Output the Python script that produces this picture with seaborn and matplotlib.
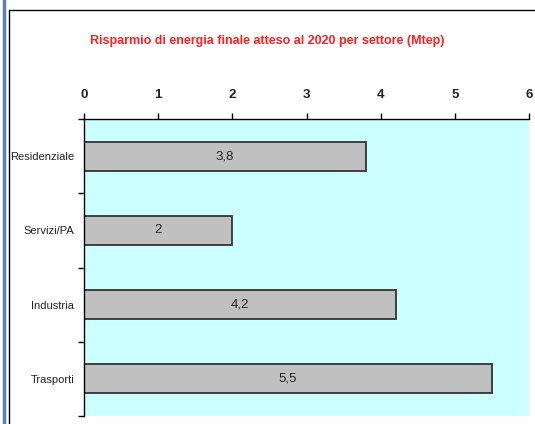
import matplotlib
matplotlib.use("Agg")
import matplotlib.pyplot as plt
import seaborn as sns
import pandas as pd
from matplotlib.lines import Line2D

categories = ["Residenziale", "Servizi/PA", "Industria", "Trasporti"]
values = [3.8, 2, 4.2, 5.5]
xticks = [0, 1, 2, 3, 4, 5, 6]
title = "Risparmio di energia finale atteso al 2020 per settore (Mtep)"

sns.set_theme(style="white")
plt.rcParams['font.family'] = ['Liberation Sans Narrow', 'Liberation Sans', 'DejaVu Sans']

df = pd.DataFrame({"settore": categories, "valore": values})

fig = plt.figure(figsize=(5.35, 4.24), dpi=100)
ax = fig.add_axes([84/535, 1-416/424, (529-84)/535, (416-119)/424])
ax.set_facecolor("#CCFFFF")

sns.barplot(data=df, x="valore", y="settore", orient="h", color="#C0C0C0",
            edgecolor="#333333", linewidth=1.3, width=0.39, saturation=1, ax=ax)

labels = [f"{v:g}".replace(".", ",") for v in values]
ax.bar_label(ax.containers[0], labels=labels, label_type="center",
             fontsize=9.5, color="#222222")

ax.set_xlim(0, 6)
ax.set_ylim(3.5, -0.5)
ax.xaxis.tick_top()
ax.set_xticks(xticks)
ax.set_xticklabels([str(t) for t in xticks], fontsize=9.5, color="#222222",
                   fontweight="bold")
ax.tick_params(axis="x", top=True, bottom=False, direction="out", length=4,
               width=1, color="black", pad=9)
ax.set_yticks(range(len(categories)))
ax.set_yticklabels(categories, fontsize=8, color="#222222")
ax.tick_params(axis="y", which="major", left=False, length=0, pad=7)
ax.set_yticks([-0.5, 0.5, 1.5, 2.5, 3.5], minor=True)
ax.tick_params(axis="y", which="minor", left=True, direction="out", length=4,
               width=1, color="black")
ax.set_xlabel("")
ax.set_ylabel("")
for s in ["right", "bottom"]:
    ax.spines[s].set_visible(False)
for s in ["left", "top"]:
    ax.spines[s].set_visible(True)
    ax.spines[s].set_color("black")
    ax.spines[s].set_linewidth(1)

fig.text(0.5, 1-41/424, title, ha="center", va="center", color="#FF2020",
         fontsize=9, fontweight="bold")

# outer frames
fig.add_artist(Line2D([4/535, 4/535], [0, 1], transform=fig.transFigure,
                      color="#5B7FB8", linewidth=2.5))
fig.add_artist(Line2D([9/535, 9/535], [0, 1-10/424], transform=fig.transFigure,
                      color="black", linewidth=1))
fig.add_artist(Line2D([9/535, 1], [1-10/424, 1-10/424], transform=fig.transFigure,
                      color="black", linewidth=1))

fig.savefig("out.png", dpi=100)
